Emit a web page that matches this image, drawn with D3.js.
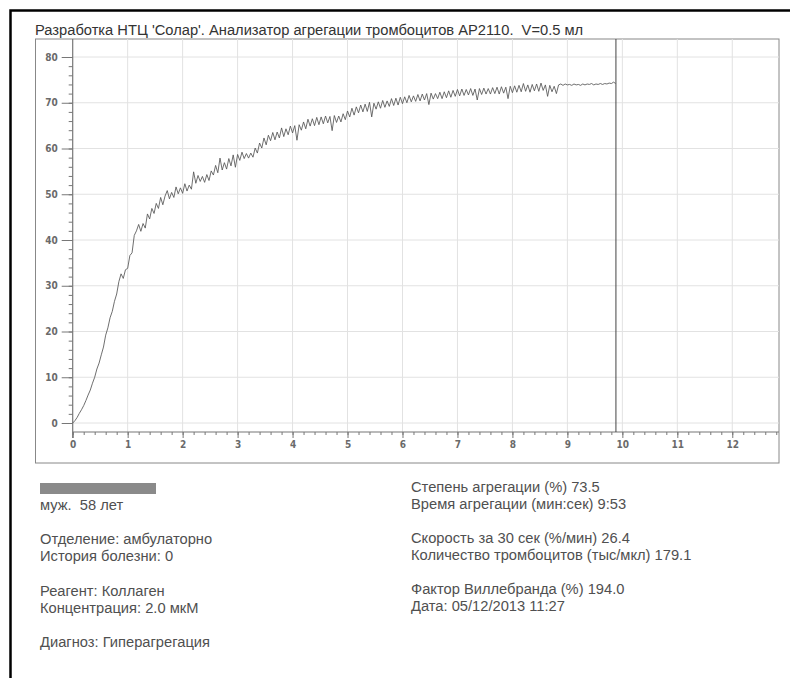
<!DOCTYPE html>
<html>
<head>
<meta charset="utf-8">
<script src="https://cdn.jsdelivr.net/npm/d3@7"></script>
<style>
  html, body { margin: 0; padding: 0; background: #fff; }
  svg { display: block; }
  svg text { white-space: pre; }
</style>
</head>
<body>
<svg id="chart" width="790" height="678"></svg>
<script>
// ---------------- DATA ----------------
const titleText = "Разработка НТЦ 'Солар'. Анализатор агрегации тромбоцитов AP2110.  V=0.5 мл";
const sampleStepMin = 0.04;           // minutes between recorded samples
// Aggregation (%) recorded every 0.04 min, read from the trace
const aggregation = [
  0.0, 0.5, 1.2, 2.1, 2.9, 3.8, 4.9, 6.1, 7.2, 8.7,
  10.0, 11.8, 13.1, 14.9, 16.6, 19.2, 20.8, 23.0, 24.4, 26.6,
  28.2, 30.9, 32.6, 31.6, 33.5, 33.8, 36.6, 37.2, 41.0, 42.0,
  43.4, 41.9, 43.6, 42.6, 45.7, 44.6, 46.9, 45.8, 48.0, 46.9,
  49.3, 47.7, 49.6, 50.8, 49.0, 50.4, 49.3, 51.6, 50.1, 51.4,
  50.2, 52.3, 50.7, 52.0, 51.1, 54.9, 52.4, 54.1, 52.8, 53.9,
  52.6, 54.3, 53.0, 55.1, 54.2, 56.3, 54.7, 57.9, 55.3, 56.9,
  55.5, 57.8, 56.2, 58.6, 55.9, 58.7, 57.4, 59.2, 57.8, 58.9,
  57.9, 59.0, 58.1, 60.1, 59.0, 61.2, 60.1, 62.3, 60.8, 62.9,
  61.7, 63.5, 61.9, 63.6, 62.3, 64.5, 62.6, 64.3, 63.0, 64.9,
  63.4, 65.0, 61.8, 65.2, 64.0, 65.8, 64.3, 66.4, 64.9, 66.5,
  65.0, 66.8, 65.2, 66.9, 65.4, 67.1, 65.6, 67.0, 63.9, 67.2,
  65.7, 67.1, 65.8, 67.6, 66.3, 68.2, 66.9, 68.8, 67.3, 69.1,
  67.8, 69.5, 68.0, 69.7, 68.1, 70.1, 66.9, 69.9, 68.6, 70.2,
  68.8, 70.5, 69.0, 70.4, 69.2, 70.9, 69.4, 71.0, 69.5, 71.2,
  69.8, 71.3, 70.0, 71.6, 70.2, 71.5, 70.3, 71.8, 70.4, 71.9,
  70.6, 72.0, 69.6, 72.1, 70.8, 72.0, 70.9, 72.3, 70.9, 72.4,
  71.1, 72.6, 71.2, 72.7, 71.4, 72.9, 71.5, 73.0, 71.6, 72.9,
  71.7, 73.1, 71.6, 73.0, 70.6, 73.1, 71.8, 73.2, 71.9, 73.1,
  71.9, 73.3, 72.0, 73.4, 71.9, 73.5, 72.1, 73.4, 70.9, 73.6,
  72.2, 73.7, 72.3, 73.8, 72.4, 74.2, 72.5, 73.9, 72.3, 74.0,
  72.6, 74.1, 72.5, 74.3, 72.7, 73.9, 71.4, 73.8, 72.4, 73.6,
  72.0, 73.9, 74.1, 73.8, 74.1, 73.9, 74.0, 73.8, 74.1, 73.9,
  74.0, 73.8, 74.1, 73.9, 74.1, 74.0, 74.2, 73.9, 74.1, 74.0,
  74.2, 74.0, 74.2, 74.1, 74.3, 74.2, 74.5, 74.2
];
const aggregationTimeMin = 9 + 53 / 60;   // "9:53" marker
const xTickValues = [0, 1, 2, 3, 4, 5, 6, 7, 8, 9, 10, 11, 12];
const yTickValues = [0, 10, 20, 30, 40, 50, 60, 70, 80];
const xDomain = [0, 12.85];
const yDomain = [0, 80];

const patientLines = [
  ["муж.  58 лет"],
  ["Отделение: амбулаторно", "История болезни: 0"],
  ["Реагент: Коллаген", "Концентрация: 2.0 мкМ"],
  ["Диагноз: Гиперагрегация"]
];
const resultLines = [
  ["Степень агрегации (%) 73.5", "Время агрегации (мин:сек) 9:53"],
  ["Скорость за 30 сек (%/мин) 26.4", "Количество тромбоцитов (тыс/мкл) 179.1"],
  ["Фактор Виллебранда (%) 194.0", "Дата: 05/12/2013 11:27"]
];

// ---------------- DRAWING ----------------
const svg = d3.select("#chart");
const frame = { left: 35.5, top: 39, right: 779, bottom: 463 };
const axisY0 = 432;   // x-axis baseline

const x = d3.scaleLinear().domain(xDomain).range([72.7, 779]);
const y = d3.scaleLinear().domain(yDomain).range([423, 57]);

// page border (scanned sheet edge)
svg.append("path")
  .attr("d", "M10.5,678 L10.5,10.5 L790,10.5")
  .attr("fill", "none").attr("stroke", "#000").attr("stroke-width", 2.5);

// title
svg.append("text")
  .attr("x", 35).attr("y", 35)
  .attr("font-family", "Liberation Sans, Arial, sans-serif")
  .attr("font-size", 14.7).attr("fill", "#333")
  .text(titleText);

// frame
svg.append("rect")
  .attr("x", frame.left).attr("y", frame.top)
  .attr("width", frame.right - frame.left).attr("height", frame.bottom - frame.top)
  .attr("fill", "none").attr("stroke", "#888").attr("stroke-width", 1);

// grid
const grid = svg.append("g").attr("stroke", "#e2e2e2").attr("stroke-width", 1);
grid.selectAll(".vg").data(xTickValues.filter(d => d > 0)).join("line")
  .attr("x1", d => x(d)).attr("x2", d => x(d))
  .attr("y1", frame.top).attr("y2", axisY0);
grid.selectAll(".hg").data(yTickValues).join("line")
  .attr("x1", x(0)).attr("x2", frame.right)
  .attr("y1", d => y(d)).attr("y2", d => y(d));

const tickFont = "DejaVu Sans Condensed, DejaVu Sans, sans-serif";

// y axis (major + minor)
const yAxisG = svg.append("g").attr("transform", `translate(${x(0)},0)`);
yAxisG.call(d3.axisLeft(y).tickValues(d3.range(0, 81, 2)).tickSize(4).tickFormat(""));
yAxisG.call(g => g.select(".domain").remove());
const yMajor = svg.append("g").attr("transform", `translate(${x(0)},0)`)
  .call(d3.axisLeft(y).tickValues(yTickValues).tickSize(11).tickPadding(4));
yMajor.select(".domain").remove();
yMajor.selectAll("text").attr("font-family", tickFont).attr("font-weight", "bold")
  .attr("font-size", 10).attr("fill", "#6a6a6a");
svg.selectAll(".tick line").attr("stroke", "#777");
svg.append("line")
  .attr("x1", x(0)).attr("x2", x(0)).attr("y1", frame.top).attr("y2", axisY0 + 6)
  .attr("stroke", "#777").attr("stroke-width", 1.2);

// x axis (major + minor)
const xMinor = svg.append("g").attr("transform", `translate(0,${axisY0})`)
  .call(d3.axisBottom(x).tickValues(d3.range(0, 12.81, 0.2)).tickSize(3).tickFormat(""));
xMinor.select(".domain").remove();
const xMajor = svg.append("g").attr("transform", `translate(0,${axisY0})`)
  .call(d3.axisBottom(x).tickValues(xTickValues).tickSize(6).tickPadding(3));
xMajor.select(".domain").remove();
xMajor.selectAll("text").attr("font-family", tickFont).attr("font-weight", "bold")
  .attr("font-size", 10).attr("fill", "#6a6a6a");
svg.selectAll(".tick line").attr("stroke", "#777");
svg.append("line")
  .attr("x1", x(0)).attr("x2", frame.right).attr("y1", axisY0).attr("y2", axisY0)
  .attr("stroke", "#777").attr("stroke-width", 1.2);

// aggregation time marker
svg.append("line")
  .attr("x1", x(aggregationTimeMin)).attr("x2", x(aggregationTimeMin))
  .attr("y1", frame.top).attr("y2", axisY0)
  .attr("stroke", "#444").attr("stroke-width", 1);

// trace
const pts = aggregation.map((v, i) => [i * sampleStepMin, v]);
svg.append("path")
  .datum(pts)
  .attr("fill", "none").attr("stroke", "#555").attr("stroke-width", 0.85)
  .attr("stroke-linejoin", "round")
  .attr("d", d3.line().x(d => x(d[0])).y(d => y(d[1])));

// info block
const infoFont = "Liberation Sans, Arial, sans-serif";
svg.append("rect").attr("x", 40).attr("y", 483).attr("width", 116).attr("height", 11).attr("fill", "#8a8a8a");

const leftStarts = [510, 544, 596, 647];
patientLines.forEach((grp, gi) => {
  grp.forEach((t, li) => {
    svg.append("text").attr("x", 40).attr("y", leftStarts[gi] + li * 17)
      .attr("font-family", infoFont).attr("font-size", 14.7).attr("fill", "#505050").text(t);
  });
});
const rightStarts = [492, 543, 594];
resultLines.forEach((grp, gi) => {
  grp.forEach((t, li) => {
    svg.append("text").attr("x", 411).attr("y", rightStarts[gi] + li * 17)
      .attr("font-family", infoFont).attr("font-size", 14.7).attr("fill", "#505050").text(t);
  });
});
</script>
</body>
</html>
